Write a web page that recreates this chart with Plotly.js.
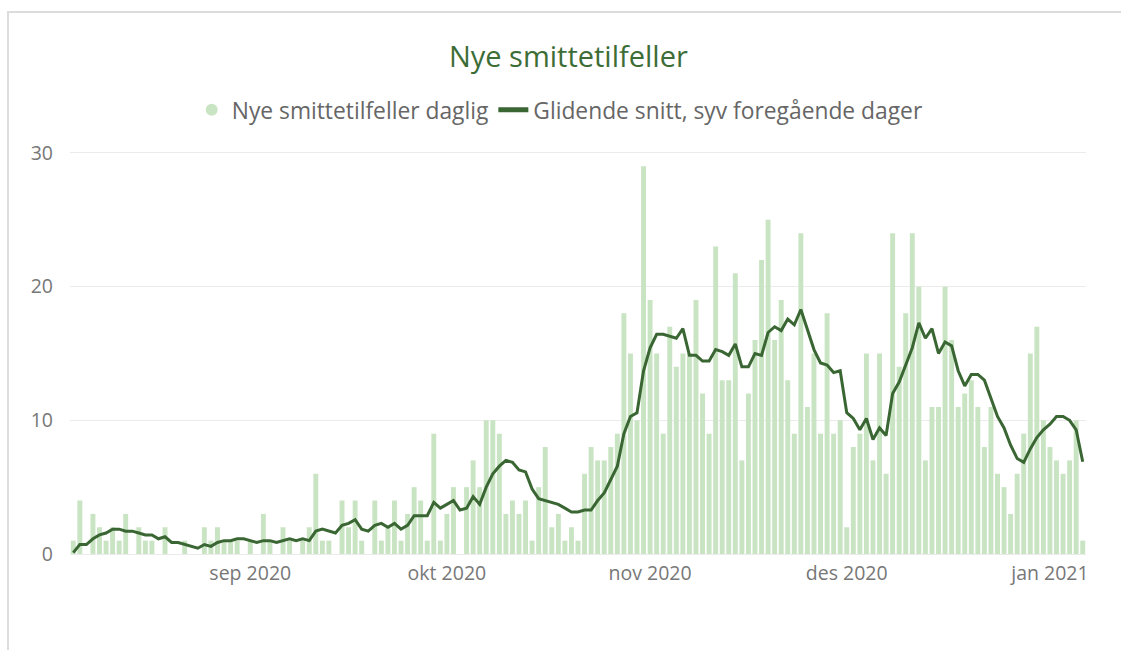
<!DOCTYPE html>
<html>
<head>
<meta charset="utf-8">
<script src="https://cdn.plot.ly/plotly-3.0.1.min.js"></script>
<style>
  body { margin: 0; background: #ffffff; }
  #plot1 { width: 1121px; height: 650px; }
  #frame { position: absolute; left: 7px; top: 11px; width: 1114px; height: 639px;
           border-left: 2px solid #dcdcdc; border-top: 2px solid #dcdcdc; pointer-events: none; }
</style>
</head>
<body>
<div id="plot1"></div>
<div id="frame"></div>
<script>
// first day in the chart, one bar per day after that
const startDate = "2020-08-05";

// new cases per day
const dailyCases = [
  1, 4, 0, 3, 2, 1, 2, 1, 3, 0,
  2, 1, 1, 0, 2, 0, 0, 1, 0, 0,
  2, 1, 2, 1, 1, 1, 0, 1, 0, 3,
  1, 0, 2, 1, 0, 1, 2, 6, 1, 1,
  0, 4, 2, 4, 1, 0, 4, 1, 2, 4,
  1, 3, 5, 4, 1, 9, 1, 3, 5, 0,
  5, 7, 5, 10, 10, 9, 3, 4, 3, 4,
  1, 5, 8, 2, 3, 1, 2, 1, 6, 8,
  7, 7, 8, 9, 18, 15, 10, 29, 19, 15,
  9, 17, 14, 15, 15, 19, 12, 9, 23, 13,
  13, 21, 7, 12, 16, 22, 25, 16, 19, 13,
  9, 24, 11, 15, 9, 18, 9, 10, 2, 8,
  9, 15, 7, 15, 6, 24, 14, 18, 24, 20,
  7, 11, 11, 20, 16, 11, 12, 13, 11, 8,
  11, 6, 5, 3, 6, 9, 15, 17, 10, 8,
  7, 6, 7, 10, 1
];

// rolling average line
const rollingAvg = [
  0.1, 0.71, 0.71, 1.14, 1.43, 1.57, 1.86, 1.86, 1.71, 1.71,
  1.57, 1.43, 1.43, 1.14, 1.29, 0.86, 0.86, 0.71, 0.57, 0.43,
  0.71, 0.57, 0.86, 1.0, 1.0, 1.14, 1.14, 1.0, 0.86, 1.0,
  1.0, 0.86, 1.0, 1.14, 1.0, 1.14, 1.0, 1.71, 1.86, 1.71,
  1.57, 2.14, 2.29, 2.57, 1.86, 1.71, 2.14, 2.29, 2.0, 2.29,
  1.86, 2.14, 2.86, 2.86, 2.86, 3.86, 3.43, 3.71, 4.0, 3.29,
  3.43, 4.29, 3.71, 5.0, 6.0, 6.57, 7.0, 6.86, 6.29, 6.14,
  4.86, 4.14, 4.0, 3.86, 3.71, 3.43, 3.14, 3.14, 3.29, 3.29,
  4.0, 4.57, 5.57, 6.57, 9.0, 10.29, 10.57, 13.71, 15.43, 16.43,
  16.43, 16.29, 16.14, 16.86, 14.86, 14.86, 14.43, 14.43, 15.29, 15.14,
  14.86, 15.71, 14.0, 14.0, 15.0, 14.86, 16.57, 17.0, 16.71, 17.57,
  17.14, 18.29, 16.71, 15.29, 14.29, 14.14, 13.57, 13.71, 10.57, 10.14,
  9.29, 10.14, 8.57, 9.43, 8.86, 12.0, 12.86, 14.14, 15.43, 17.29,
  16.14, 16.86, 15.0, 15.86, 15.57, 13.71, 12.57, 13.43, 13.43, 13.0,
  11.71, 10.29, 9.43, 8.14, 7.14, 6.86, 7.86, 8.71, 9.29, 9.71,
  10.29, 10.29, 10.0, 9.29, 6.9
];

// month labels on the x axis
const monthTicks = ["2020-09-01", "2020-10-01", "2020-11-01", "2020-12-01", "2021-01-01"];
const monthLabels = ["sep 2020", "okt 2020", "nov 2020", "des 2020", "jan 2021"];

const yTicks = [0, 10, 20, 30];

function buildDates(start, n) {
    let out = [];
    let d = new Date(start + "T00:00:00Z");
    for (let i = 0; i < n; i++) {
        out.push(d.toISOString().slice(0, 10));
        d.setUTCDate(d.getUTCDate() + 1);
    }
    return out;
}

const dates = buildDates(startDate, dailyCases.length);
const barColor = "#c8e4c2";
const lineColor = "#3a6633";

let traces = [
    {
        x: dates,
        y: dailyCases,
        type: "bar",
        marker: {color: barColor},
        showlegend: false,
        hoverinfo: "x+y"
    },
    { // legend entry only, drawn as a round dot like the original
        x: [null],
        y: [null],
        type: "scatter",
        mode: "markers",
        marker: {color: barColor, size: 16, symbol: "circle"},
        name: "Nye smittetilfeller daglig"
    },
    {
        x: dates,
        y: rollingAvg,
        type: "scatter",
        mode: "lines",
        line: {color: lineColor, width: 3},
        name: "Glidende snitt, syv foregående dager"
    }
];

const layout = {
    width: 1121,
    height: 650,
    margin: {l: 70, r: 35, t: 150, b: 96},
    paper_bgcolor: "#ffffff",
    plot_bgcolor: "#ffffff",
    font: {family: "Open Sans, Noto Sans, sans-serif", color: "#777777"},
    title: {
        text: "Nye smittetilfeller",
        font: {size: 29, color: "#3d6d36"},
        x: 0.507, xanchor: "center", xref: "container",
        y: 0.913, yanchor: "middle", yref: "container"
    },
    bargap: 0.25,
    legend: {
        orientation: "h",
        x: 0.482, xanchor: "center",
        y: 1.099, yanchor: "middle",
        font: {size: 22.8, color: "#666666"},
        itemsizing: "constant"
    },
    xaxis: {
        type: "date",
        range: ["2020-08-04 12:00", "2021-01-06 12:00"],
        tickvals: monthTicks,
        ticktext: monthLabels,
        showgrid: false,
        zeroline: false,
        showline: false,
        ticks: "",
        ticklabelstandoff: 5,
        tickfont: {size: 19.5, color: "#777777"}
    },
    yaxis: {
        range: [0, 30.22],
        tickvals: yTicks,
        gridcolor: "#ebebeb",
        gridwidth: 1,
        zeroline: true,
        zerolinecolor: "#ebebeb",
        showline: false,
        ticks: "",
        ticklabelstandoff: 16,
        tickfont: {size: 19.5, color: "#777777"}
    }
};

Plotly.newPlot("plot1", traces, layout, {displayModeBar: false, staticPlot: true});
</script>
</body>
</html>
